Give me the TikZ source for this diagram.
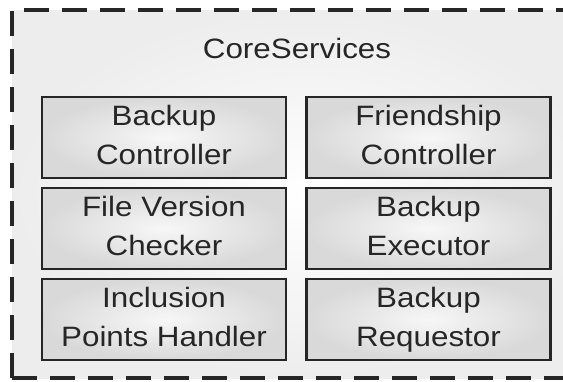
\documentclass[tikz,border=0pt]{standalone}
\usepackage{fontspec}
\setmainfont[FakeStretch=1.12]{Liberation Sans}
\usetikzlibrary{shadings}
\definecolor{bgout}{HTML}{EDEDED}
\definecolor{boxedge}{HTML}{D9D9D9}
\definecolor{boxmid}{HTML}{F7F7F7}
\definecolor{ln}{HTML}{262626}
\tikzset{
  comp/.style={draw=ln, line width=2.8pt, inner color=boxmid, outer color=boxedge,
    minimum width=244pt, minimum height=81pt, inner sep=0pt, outer sep=0pt,
    align=center, text=ln, font=\fontsize{28}{39}\selectfont},
  frameline/.style={draw=ln, line width=3.4pt, dash pattern=on 25pt off 13pt},
  framefill/.style={inner color=white, outer color=bgout}
}
\begin{document}
\begin{tikzpicture}[x=1pt,y=-1pt]
\useasboundingbox (0,0) rectangle (563,381);
\begin{scope}
\clip (0,0) rectangle (563,381);
\fill[white] (0,0) rectangle (563,381);
\shade[framefill] (12,10) rectangle (600,378);
\draw[frameline] (12,378) -- (12,10) -- (563,10);
\draw[frameline] (12,378) -- (563,378);
\end{scope}
\node[text=ln, font=\fontsize{28}{39}\selectfont, anchor=base] (title) at (297,58) {CoreServices};
\node[comp] (bc) at (164,137.5) {\strut Backup\\\strut Controller};
\node[comp] (fc) at (428.5,137.5) {\strut Friendship\\\strut Controller};
\node[comp] (fv) at (164,228.5) {\strut File Version\\\strut Checker};
\node[comp] (be) at (428.5,228.5) {\strut Backup\\\strut Executor};
\node[comp] (ip) at (164,319.5) {\strut Inclusion\\\strut Points Handler};
\node[comp] (br) at (428.5,319.5) {\strut Backup\\\strut Requestor};
\end{tikzpicture}
\end{document}
